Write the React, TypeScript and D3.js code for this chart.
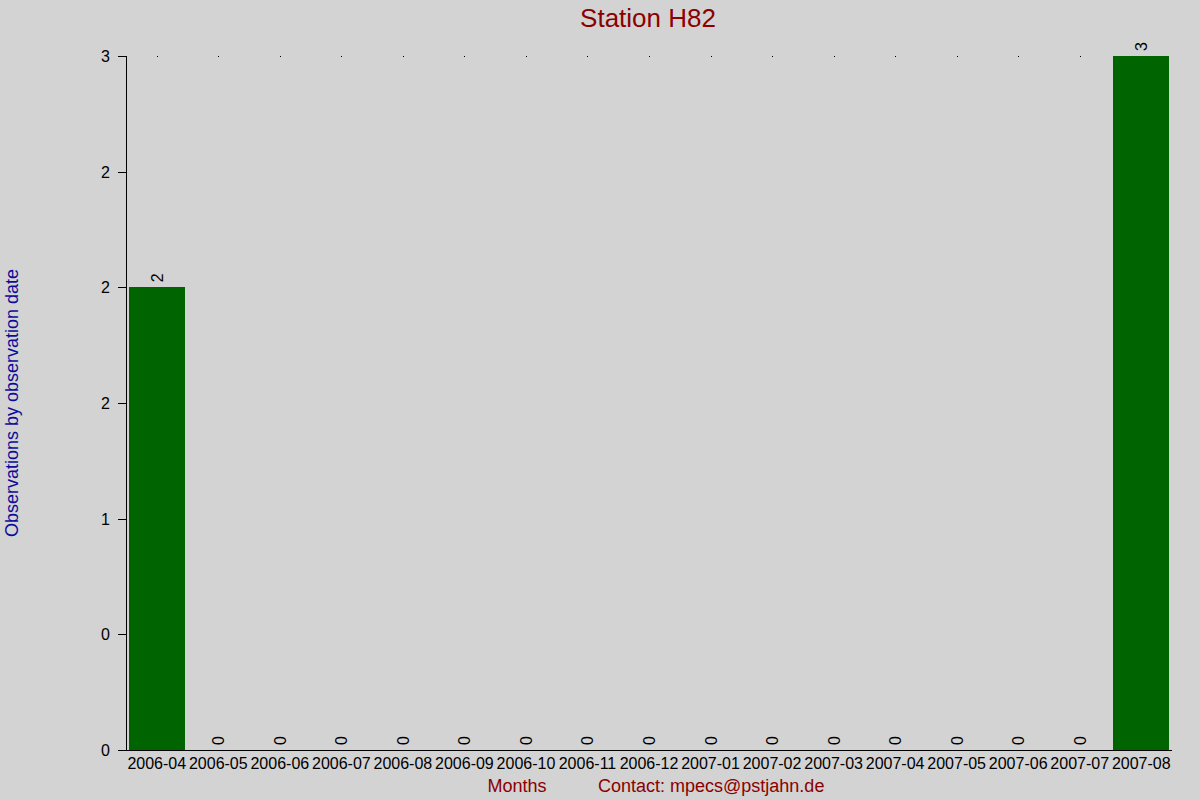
import { useEffect, useRef } from "react";
import * as d3 from "d3";

const months = [
  "2006-04", "2006-05", "2006-06", "2006-07", "2006-08", "2006-09",
  "2006-10", "2006-11", "2006-12", "2007-01", "2007-02", "2007-03",
  "2007-04", "2007-05", "2007-06", "2007-07", "2007-08",
];
const counts = [2, 0, 0, 0, 0, 0, 0, 0, 0, 0, 0, 0, 0, 0, 0, 0, 3];
const yTicks = [0, 0.5, 1, 1.5, 2, 2.5, 3];
const yTickLabels = ["0", "0", "1", "2", "2", "2", "3"];

const WIDTH = 1200;
const HEIGHT = 800;
const MARGIN = { top: 56, right: 28, bottom: 50, left: 126 };
const FONT = "'Liberation Sans', Arial, sans-serif";

const App = () => {
  const svgRef = useRef<SVGSVGElement | null>(null);

  useEffect(() => {
    document.body.style.margin = "0";
    if (!svgRef.current) return;
    const svg = d3.select(svgRef.current);
    svg.selectAll("*").remove();

    const innerW = WIDTH - MARGIN.left - MARGIN.right;
    const innerH = HEIGHT - MARGIN.top - MARGIN.bottom;

    svg.append("rect").attr("width", WIDTH).attr("height", HEIGHT).attr("fill", "#d3d3d3");

    const x = d3.scaleBand().domain(months).range([0, innerW]).paddingInner(0.09).paddingOuter(0.045);
    const xc = d3.scaleBand().domain(months).range([0, innerW]);
    const y = d3.scaleLinear().domain([0, 3]).range([innerH, 0]);

    const g = svg.append("g").attr("transform", `translate(${MARGIN.left},${MARGIN.top})`);

    // small dots along the top
    g.selectAll(".dot")
      .data(months)
      .join("rect")
      .attr("x", (d) => Math.round(xc(d)! + xc.bandwidth() / 2))
      .attr("y", 0)
      .attr("width", 1)
      .attr("height", 1)
      .attr("fill", "#000");

    // Bars
    g.selectAll(".bar")
      .data(counts)
      .join("rect")
      .attr("x", (_, i) => x(months[i])!)
      .attr("y", (d) => y(d))
      .attr("width", x.bandwidth())
      .attr("height", (d) => innerH - y(d))
      .attr("fill", "#006400")
      .attr("shape-rendering", "crispEdges");

    // Value labels (rotated)
    g.selectAll(".val")
      .data(counts)
      .join("text")
      .attr("transform", (d, i) => `translate(${xc(months[i])! + xc.bandwidth() / 2 + 6},${y(d) - 5}) rotate(-90)`)
      .attr("font-family", FONT)
      .attr("font-size", 16)
      .attr("fill", "#000")
      .text((d) => String(d));

    // Y axis
    const yAxis = g.append("g").call(
      d3.axisLeft(y).tickValues(yTicks).tickSize(8).tickPadding(8)
        .tickFormat((_, i) => yTickLabels[i])
    );
    yAxis.select(".domain").attr("d", `M0,0H0V${innerH}`).attr("stroke", "#000").attr("shape-rendering", "crispEdges");
    yAxis.selectAll("line").attr("stroke", "#000").attr("shape-rendering", "crispEdges");
    yAxis.selectAll("text").attr("font-family", FONT).attr("font-size", 16).attr("fill", "#000").attr("dy", "0.35em");

    // X axis
    const xAxis = g.append("g").attr("transform", `translate(0,${innerH})`).call(
      d3.axisBottom(xc).tickSize(0).tickPadding(8)
    );
    xAxis.select(".domain").attr("d", `M-8,0H${innerW}`).attr("stroke", "#000").attr("shape-rendering", "crispEdges");
    xAxis.selectAll("text").attr("font-family", FONT).attr("font-size", 16).attr("fill", "#000");

    // Title
    svg.append("text")
      .attr("x", 648)
      .attr("y", 27)
      .attr("text-anchor", "middle")
      .attr("font-family", FONT)
      .attr("font-size", 26)
      .attr("fill", "#8b0000")
      .text("Station H82");

    // Y title
    svg.append("text")
      .attr("transform", `translate(18,403) rotate(-90)`)
      .attr("text-anchor", "middle")
      .attr("font-family", FONT)
      .attr("font-size", 18)
      .attr("fill", "#0c0c9a")
      .text("Observations by observation date");

    // X titles
    svg.append("text")
      .attr("x", 517)
      .attr("y", 792)
      .attr("text-anchor", "middle")
      .attr("font-family", FONT)
      .attr("font-size", 18)
      .attr("fill", "#8b0000")
      .text("Months");
    svg.append("text")
      .attr("x", 598)
      .attr("y", 792)
      .attr("font-family", FONT)
      .attr("font-size", 18)
      .attr("fill", "#8b0000")
      .text("Contact: mpecs@pstjahn.de");
  }, []);

  return <svg ref={svgRef} width={WIDTH} height={HEIGHT} style={{ display: "block" }} />;
};

export default App;
